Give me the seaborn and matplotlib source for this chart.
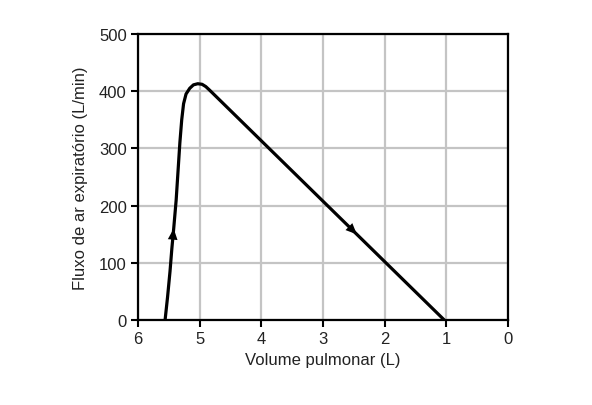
import numpy as np
import pandas as pd
import matplotlib.pyplot as plt
import seaborn as sns

# flow-volume loop (expiratory limb)
volume = [5.56, 5.52, 5.48, 5.45, 5.42, 5.38, 5.35, 5.32, 5.29, 5.26,
          5.22, 5.16, 5.10, 5.03, 4.96, 4.90, 4.84, 1.03]
flow = [0, 40, 85, 125, 160, 210, 260, 310, 350, 378,
        395, 405, 411, 413, 412, 408, 402, 0]

# arrows along the curve: (index of start point, index of end point)
arrow_idx = [(3, 4)]
arrow2_vol = [2.65, 2.45]

x_ticks = [6, 5, 4, 3, 2, 1, 0]
y_ticks = [0, 100, 200, 300, 400, 500]

sns.set_style("white")
plt.rcParams['font.family'] = ['Liberation Sans', 'DejaVu Sans']

fig = plt.figure(figsize=(5.92, 4.06), dpi=100)
ax = fig.add_axes([0.233, 0.209, 0.625, 0.705])

df = pd.DataFrame({"volume": volume, "flow": flow})
sns.lineplot(data=df, x="volume", y="flow", sort=False, color="black",
             linewidth=2.3, ax=ax)

ax.set_xlim(6, 0)
ax.set_ylim(0, 500)
ax.set_xticks(x_ticks)
ax.set_yticks(y_ticks)
ax.grid(True, color="#c4c4c4", linewidth=1.6)
ax.set_axisbelow(True)

for s in ax.spines.values():
    s.set_color("black")
    s.set_linewidth(1.6)

ax.tick_params(direction="out", length=5, width=1.5, color="black",
               labelsize=12, labelcolor="#222222", left=True, bottom=True, pad=3)
ax.set_xlabel("Volume pulmonar (L)", fontsize=12, color="#222222", labelpad=4)
ax.set_ylabel("Fluxo de ar expiratório (L/min)", fontsize=12, color="#222222",
              labelpad=8)

# arrow heads
arrow_kw = dict(arrowstyle="-|>,head_length=0.8,head_width=0.35",
                color="black", lw=0, shrinkA=0, shrinkB=0)
for i, j in arrow_idx:
    ax.annotate("", xy=(volume[j], flow[j]), xytext=(volume[i], flow[i]),
                arrowprops=arrow_kw)

# arrow on the descending limb, positioned along the straight segment
v0, f0 = volume[-2], flow[-2]
v1, f1 = volume[-1], flow[-1]
pts = [(v, f0 + (f1 - f0) * (v - v0) / (v1 - v0)) for v in arrow2_vol]
ax.annotate("", xy=pts[1], xytext=pts[0], arrowprops=arrow_kw)

plt.savefig("out.png", dpi=100)
